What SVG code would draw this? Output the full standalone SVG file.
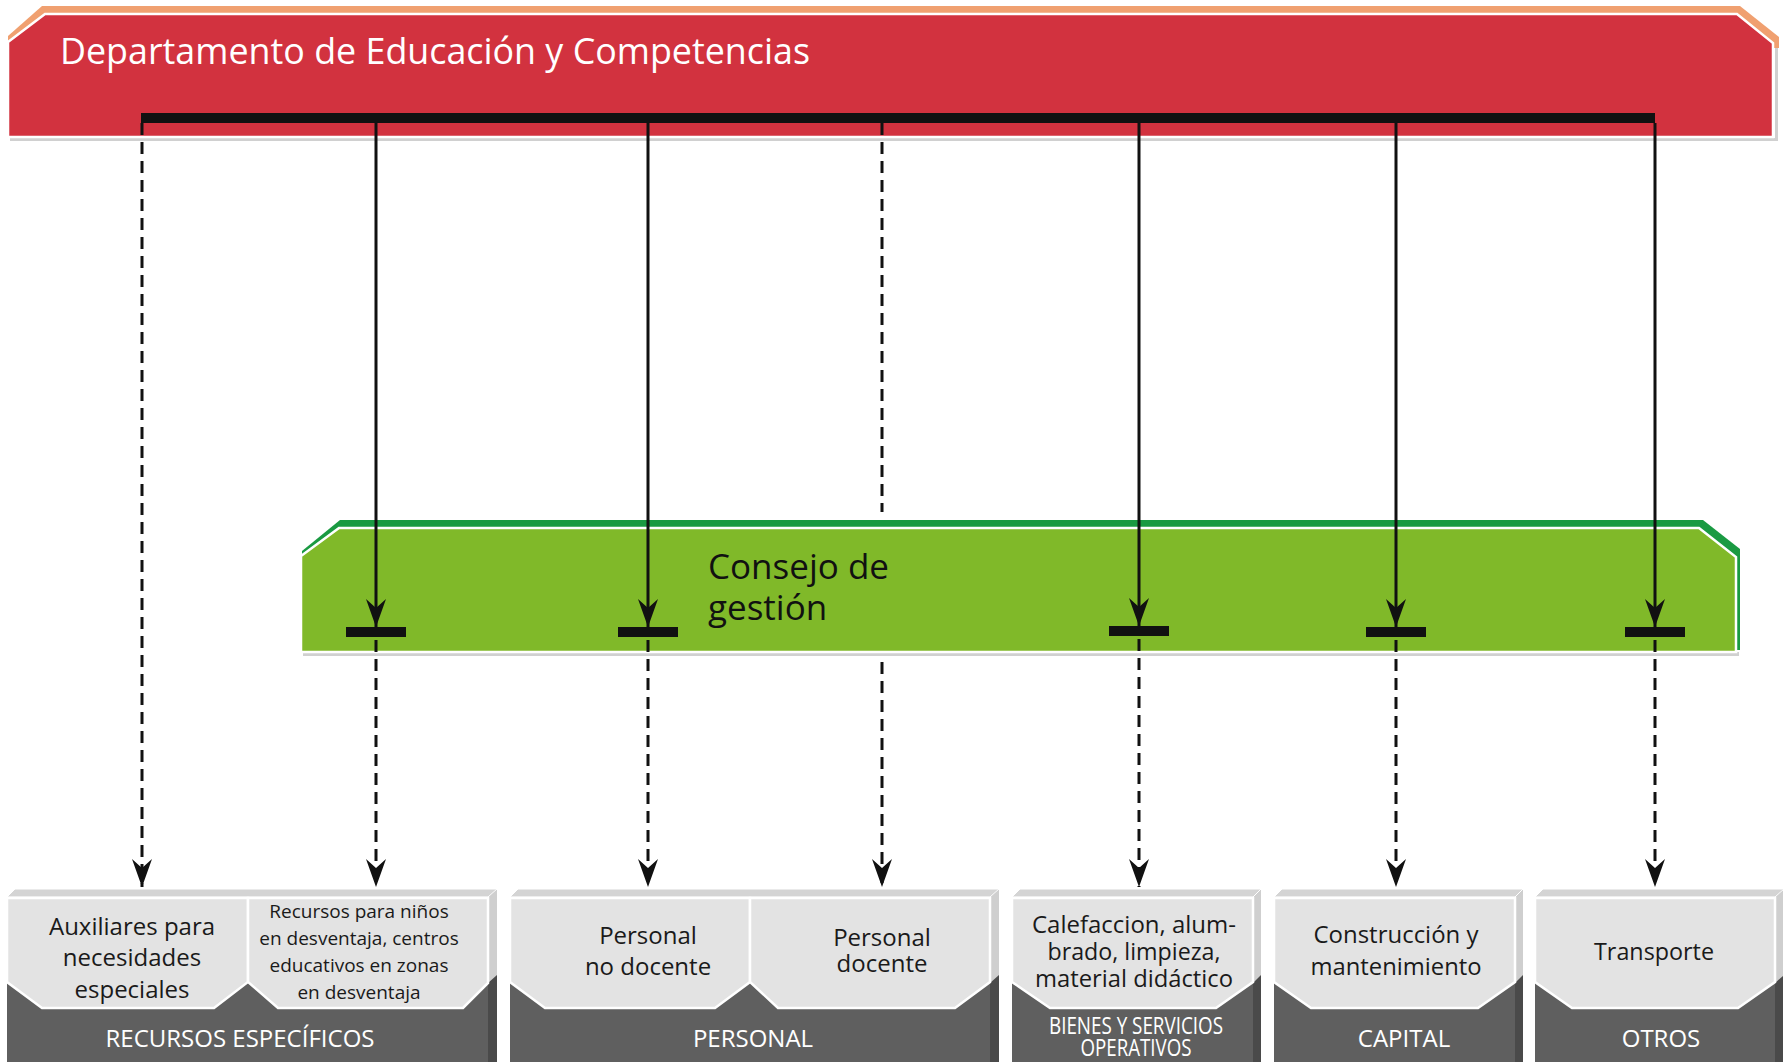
<svg xmlns="http://www.w3.org/2000/svg" width="1783" height="1062" viewBox="0 0 1783 1062">
<style>
text{font-family:"Open Sans","Noto Sans",sans-serif}
.title{font-size:36px;fill:#fff}
.green{font-size:35px;fill:#111}
.cell{font-size:24px;fill:#1a1a1a;text-anchor:middle}
.small{font-size:19px;fill:#1a1a1a;text-anchor:middle}
.lab{font-size:24px;fill:#fff;text-anchor:middle}
.front{fill:#5f5f5f}
.topf{fill:#d4d4d4;stroke:#fff;stroke-width:1}
.sideD{fill:#4a4a4a}
.sideL{fill:#cfcfcf}
.c{fill:#e3e3e3;stroke:#fff;stroke-width:2.5}
.sol{stroke:#111;stroke-width:3;fill:none}
.dash{stroke:#111;stroke-width:3;fill:none;stroke-dasharray:12 7}
.bar{fill:#111}
</style>
<defs>
<marker id="arr" markerUnits="userSpaceOnUse" markerWidth="30" markerHeight="24" refX="0" refY="0" orient="auto" overflow="visible">
<path d="M0,0 L-28,-10 L-19,0 L-28,10 Z" fill="#111"/>
</marker>
</defs>
<rect width="1783" height="1062" fill="#fff"/>

<g id="departamento">
<rect x="10" y="138" width="1767" height="3" fill="#d0d0d0"/>
<rect x="1775" y="45" width="3" height="96" fill="#d0d0d0"/>
<polygon points="8,36 42,6 1740,6 1779,37 1779,48 8,48" fill="#f0a070"/>
<polygon points="8,42 45,14 1737,14 1773,43 1773,137 8,137" fill="#d2323f" stroke="#fff" stroke-width="2.5"/>
<text class="title" x="60" y="64" textLength="750" lengthAdjust="spacingAndGlyphs">Departamento de Educación y Competencias</text>
</g>

<g id="consejo">
<rect x="303" y="652" width="1436" height="4" fill="#d0d0d0"/>
<polygon points="302,551 340,520 1703,520 1740,549 1740,650 302,650" fill="#1a9a42"/>
<polygon points="301,556 339,528 1699,528 1736,557 1736,652 301,652" fill="#80b929" stroke="#fff" stroke-width="2.5"/>
<text class="green" x="708" y="579">Consejo de</text>
<text class="green" x="708" y="620">gestión</text>
</g>

<g id="recursos-especificos">
<rect class="front" x="7" y="897" width="481" height="166"/>
<polygon class="sideD" points="488,897 497,889 497,1062 488,1062"/>
<polygon class="sideL" points="488,897 497,889 497,975 488,983"/>
<polygon class="topf" points="7,897 15,889 497,889 488,897"/>
<polygon class="c" points="7,898 248,898 248,982 214,1008 42,1008 7,982"/>
<polygon class="c" points="248,898 488,898 488,983 463,1008 278,1008 248,982"/>
<text class="cell" x="132" y="935">Auxiliares para</text>
<text class="cell" x="132" y="966">necesidades</text>
<text class="cell" x="132" y="998">especiales</text>
<text class="small" x="359" y="918">Recursos para niños</text>
<text class="small" x="359" y="945">en desventaja, centros</text>
<text class="small" x="359" y="972">educativos en zonas</text>
<text class="small" x="359" y="999">en desventaja</text>
<text class="lab" x="240" y="1047">RECURSOS ESPECÍFICOS</text>
</g>

<g id="personal">
<rect class="front" x="510" y="897" width="480" height="166"/>
<polygon class="sideD" points="990,897 999,889 999,1062 990,1062"/>
<polygon class="sideL" points="990,897 999,889 999,975 990,983"/>
<polygon class="topf" points="510,897 518,889 999,889 990,897"/>
<polygon class="c" points="510,898 750,898 750,982 715,1008 545,1008 510,982"/>
<polygon class="c" points="750,898 990,898 990,982 955,1008 778,1008 750,982"/>
<text class="cell" x="648" y="944">Personal</text>
<text class="cell" x="648" y="975">no docente</text>
<text class="cell" x="882" y="946" font-size="23">Personal</text>
<text class="cell" x="882" y="972" font-size="23">docente</text>
<text class="lab" x="753" y="1047">PERSONAL</text>
</g>

<g id="bienes">
<rect class="front" x="1012" y="897" width="241" height="166"/>
<polygon class="sideD" points="1253,897 1261,889 1261,1062 1253,1062"/>
<polygon class="sideL" points="1253,897 1261,889 1261,975 1253,983"/>
<polygon class="topf" points="1012,897 1020,889 1261,889 1253,897"/>
<polygon class="c" points="1012,898 1253,898 1253,982 1216,1008 1050,1008 1012,982"/>
<text class="cell" x="1134" y="933" font-size="24" textLength="204" lengthAdjust="spacingAndGlyphs">Calefaccion, alum-</text>
<text class="cell" x="1134" y="960" font-size="24" textLength="173" lengthAdjust="spacingAndGlyphs">brado, limpieza,</text>
<text class="cell" x="1134" y="987" font-size="24" textLength="198" lengthAdjust="spacingAndGlyphs">material didáctico</text>
<text class="lab" x="1136" y="1034" font-size="17" textLength="174" lengthAdjust="spacingAndGlyphs">BIENES Y SERVICIOS</text>
<text class="lab" x="1136" y="1056" font-size="17" textLength="111" lengthAdjust="spacingAndGlyphs">OPERATIVOS</text>
</g>

<g id="capital">
<rect class="front" x="1274" y="897" width="241" height="166"/>
<polygon class="sideD" points="1515,897 1523,889 1523,1062 1515,1062"/>
<polygon class="sideL" points="1515,897 1523,889 1523,975 1515,983"/>
<polygon class="topf" points="1274,897 1282,889 1523,889 1515,897"/>
<polygon class="c" points="1274,898 1515,898 1515,982 1478,1008 1311,1008 1274,982"/>
<text class="cell" x="1396" y="943" font-size="25" textLength="165" lengthAdjust="spacingAndGlyphs">Construcción y</text>
<text class="cell" x="1396" y="975" font-size="25" textLength="171" lengthAdjust="spacingAndGlyphs">mantenimiento</text>
<text class="lab" x="1404" y="1047">CAPITAL</text>
</g>

<g id="otros">
<rect class="front" x="1535" y="897" width="240" height="166"/>
<polygon class="sideD" points="1775,897 1784,889 1784,1062 1775,1062"/>
<polygon class="sideL" points="1775,897 1784,889 1784,975 1775,983"/>
<polygon class="topf" points="1535,897 1543,889 1784,889 1775,897"/>
<polygon class="c" points="1535,898 1775,898 1775,982 1738,1008 1572,1008 1535,982"/>
<text class="cell" x="1654" y="960" font-size="25" textLength="120" lengthAdjust="spacingAndGlyphs">Transporte</text>
<text class="lab" x="1661" y="1047">OTROS</text>
</g>

<g id="connectors">
<rect class="bar" x="141" y="113" width="1514" height="10"/>
<line class="dash" x1="142" y1="123" x2="142" y2="887" marker-end="url(#arr)"/>
<line class="dash" x1="882" y1="123" x2="882" y2="512"/>
<line class="dash" x1="882" y1="662" x2="882" y2="887" marker-end="url(#arr)"/>
<line class="sol" x1="376" y1="123" x2="376" y2="627" marker-end="url(#arr)"/>
<line class="sol" x1="648" y1="123" x2="648" y2="627" marker-end="url(#arr)"/>
<line class="sol" x1="1139" y1="123" x2="1139" y2="626" marker-end="url(#arr)"/>
<line class="sol" x1="1396" y1="123" x2="1396" y2="627" marker-end="url(#arr)"/>
<line class="sol" x1="1655" y1="123" x2="1655" y2="627" marker-end="url(#arr)"/>
<rect class="bar" x="346" y="627" width="60" height="10"/>
<rect class="bar" x="618" y="627" width="60" height="10"/>
<rect class="bar" x="1109" y="626" width="60" height="10"/>
<rect class="bar" x="1366" y="627" width="60" height="10"/>
<rect class="bar" x="1625" y="627" width="60" height="10"/>
<line class="dash" x1="376" y1="640" x2="376" y2="887" marker-end="url(#arr)"/>
<line class="dash" x1="648" y1="640" x2="648" y2="887" marker-end="url(#arr)"/>
<line class="dash" x1="1139" y1="639" x2="1139" y2="887" marker-end="url(#arr)"/>
<line class="dash" x1="1396" y1="640" x2="1396" y2="887" marker-end="url(#arr)"/>
<line class="dash" x1="1655" y1="640" x2="1655" y2="887" marker-end="url(#arr)"/>
</g>
</svg>
